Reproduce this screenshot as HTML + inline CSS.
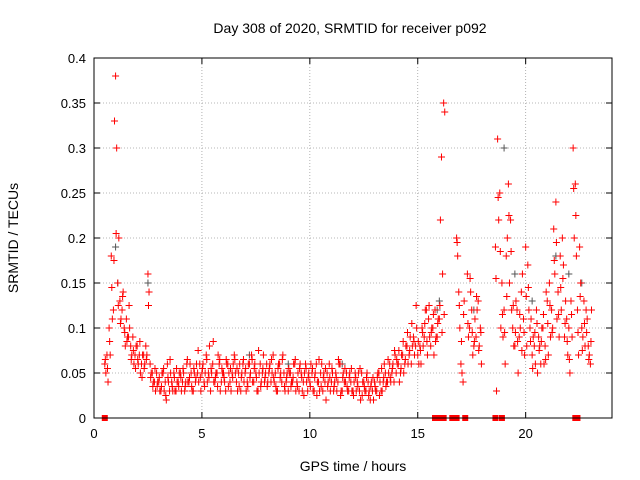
<!DOCTYPE html>
<html><head><meta charset="utf-8"><style>
body{margin:0;background:#fff;}
svg{display:block;font-family:"Liberation Sans",sans-serif;}
</style></head><body>
<svg id="chart" width="640" height="480" viewBox="0 0 640 480"></svg>
<script>
const segStarts=[0.5,3.0,15.0,16.8,17.3,18.6];
const seriesA=[
[.06,.07,.10,.18,.12,.38,.15,.13,.12,.10,.11,.09,.08,.09,.07,.08,.07,.06,.07,.08,.16,.06,.05,.04,.05],
[.04,.03,.05,.04,.06,.03,.04,.05,.03,.04,.05,.04,.03,.06,.04,.05,.03,.04,.05,.06,.05,.04,.07,.05,.03,.06,.04,.05,.06,.04,.05,.03,.06,.04,.05,.07,.04,.05,.03,.06,.05,.04,.06,.07,.04,.05,.03,.06,.05,.04,.06,.05,.04,.07,.05,.03,.06,.04,.05,.04,.03,.05,.04,.06,.04,.03,.05,.04,.06,.03,.04,.05,.03,.06,.04,.05,.03,.04,.05,.06,.04,.03,.05,.04,.06,.03,.04,.05,.03,.04,.03,.05,.04,.03,.05,.04,.03,.04,.02,.03,.04,.03,.05,.03,.04,.05,.04,.06,.05,.04,.05,.06,.05,.07,.06,.08,.07,.06,.09,.08],
[.07,.08,.10,.09,.12,.11,.08,.10,.12,.09,.11,.29,.35],
[.20,.14,.06,.04],
[.16,.10,.12,.08,.09,.13,.10],
[.19,.31,.25,.15,.12,.18,.26,.22,.10,.08,.12,.09,.14,.11,.19,.17,.10,.07,.08,.12,.09,.06,.10,.08,.13,.15,.12,.21,.24,.14,.18,.20,.09,.11,.10,.13,.30,.26,.12,.19,.10,.13,.12,.08,.06]];
const seriesB=[
[.05,.04,.07,.11,.33,.30,.20,.11,.14,.08,.09,.10,.07,.06,.08,.06,.05,.07,.06,.07,.14,.05,.04,.03,.04],
[.03,.05,.03,.02,.04,.05,.03,.03,.04,.05,.03,.05,.04,.04,.06,.03,.05,.06,.04,.03,.06,.05,.04,.08,.05,.04,.05,.07,.03,.05,.04,.06,.05,.03,.06,.05,.03,.06,.05,.04,.03,.06,.05,.04,.06,.03,.05,.04,.07,.05,.04,.06,.05,.04,.03,.06,.05,.07,.03,.05,.05,.04,.06,.03,.05,.06,.03,.05,.04,.05,.06,.03,.05,.04,.03,.06,.05,.02,.04,.03,.05,.04,.03,.06,.03,.05,.04,.03,.05,.03,.04,.03,.05,.02,.04,.03,.05,.03,.04,.02,.03,.05,.04,.03,.06,.04,.05,.04,.06,.07,.06,.04,.07,.05,.08,.06,.09,.08,.07,.10],
[.06,.06,.08,.12,.07,.09,.10,.07,.09,.11,.22,.16,.34],
[.18,.10,.05,.13],
[.09,.14,.07,.11,.12,.08,.06],
[.03,.22,.10,.09,.06,.20,.15,.12,.08,.13,.05,.10,.16,.07,.08,.12,.11,.09,.06,.05,.08,.10,.06,.14,.07,.09,.10,.16,.11,.09,.12,.17,.13,.07,.05,.09,.20,.18,.07,.15,.09,.08,.11,.07,.12]];
const seriesC=[
[.065,.055,.085,.145,.175,.205,.125,.105,.135,.095,.085,.125,.065,.075,.055,.065,.085,.045,.055,.065,.125,.045,.035,.055,.035],
[.045,.035,.055,.025,.045,.065,.035,.045,.055,.035,.045,.055,.035,.065,.045,.035,.055,.045,.075,.045,.055,.035,.065,.045,.055,.085,.045,.035,.065,.055,.045,.065,.035,.055,.045,.065,.055,.035,.045,.065,.055,.035,.045,.065,.055,.045,.075,.035,.055,.045,.035,.055,.065,.045,.035,.055,.045,.065,.035,.045,.055,.035,.045,.065,.035,.055,.045,.025,.055,.045,.035,.055,.045,.025,.065,.035,.045,.055,.035,.045,.055,.035,.045,.065,.025,.045,.055,.035,.045,.055,.025,.045,.035,.055,.025,.035,.045,.025,.035,.045,.035,.045,.025,.055,.045,.035,.065,.045,.055,.075,.065,.075,.055,.085,.065,.095,.075,.105,.085,.125],
[.085,.075,.095,.105,.085,.125,.095,.115,.085,.105,.125,.095,.115],
[.195,.125,.085,.115],
[.105,.155,.095,.085,.135,.075,.095],
[.155,.245,.185,.115,.095,.135,.225,.185,.125,.095,.085,.115,.075,.095,.135,.145,.085,.055,.095,.105,.075,.085,.115,.065,.105,.125,.095,.175,.195,.115,.145,.155,.105,.085,.065,.115,.255,.225,.095,.135,.075,.105,.095,.065,.085]];
const greyTimes=[1.0,1.1,2.5,7.2,9.0,11.5,15.9,16.0,17.6,19.0,19.5,20.3,21.4,22.0,22.6];
const greyValues=[.19,.15,.15,.07,.06,.06,.12,.13,.12,.30,.16,.13,.18,.16,.15];
const gapTimes=[0.5,15.8,16.0,16.2,16.6,16.8,17.2,18.6,18.9,22.3,22.4];
const xTicks=[0,5,10,15,20];
const yTicks=[0,0.05,0.1,0.15,0.2,0.25,0.3,0.35,0.4];
const yLabels=["0","0.05","0.1","0.15","0.2","0.25","0.3","0.35","0.4"];

const L=94,R=612,T=58,B=418;
const xs=t=>L+(t/24)*(R-L);
const ys=v=>B-(v/0.4)*(B-T);
const svg=document.getElementById('chart');
const NS='http://www.w3.org/2000/svg';
function mk(tag,a,parent){const e=document.createElementNS(NS,tag);for(const k in a)e.setAttribute(k,a[k]);(parent||svg).appendChild(e);return e;}

const grid=mk('g',{});


yTicks.forEach((v,i)=>{
  if(i>0&&i<yTicks.length-1)mk('line',{x1:L,x2:R,y1:ys(v),y2:ys(v),stroke:'#a0a0a0','stroke-width':0.8,'stroke-dasharray':'1,2'},grid);
  mk('line',{x1:L,x2:L+6,y1:ys(v),y2:ys(v),stroke:'#000'},grid);
  mk('line',{x1:R,x2:R-6,y1:ys(v),y2:ys(v),stroke:'#000'},grid);
  const t=mk('text',{x:L-8,y:ys(v)+5,'text-anchor':'end','font-size':13,fill:'#000'});
  t.textContent=yLabels[i];
  
  
});
xTicks.forEach(v=>{
  if(v>0)mk('line',{x1:xs(v),x2:xs(v),y1:T,y2:B,stroke:'#a0a0a0','stroke-width':0.8,'stroke-dasharray':'1,2'},grid);
  mk('line',{x1:xs(v),x2:xs(v),y1:B,y2:B-6,stroke:'#000'},grid);
  mk('line',{x1:xs(v),x2:xs(v),y1:T,y2:T+6,stroke:'#000'},grid);
  const t=mk('text',{x:xs(v),y:B+20,'text-anchor':'middle','font-size':13,fill:'#000'});
  t.textContent=String(v);
  
  
});

function plus(x,y,c,g){mk('path',{d:`M${x-3.5},${y}h7M${x},${y-3.5}v7`,stroke:c,'stroke-width':1,fill:'none'},g);}
const gg=mk('g',{});


greyTimes.forEach((t,i)=>plus(xs(t),ys(greyValues[i]),'#555',gg));
const rg=mk('g',{});


const offsets=[0,0.05,0.025];
[seriesA,seriesB,seriesC].forEach((ser,si)=>{
  ser.forEach((seg,k)=>{
    seg.forEach((v,i)=>{
      const t=segStarts[k]+i*0.1+offsets[si];
      plus(xs(t),ys(v),'#ff0000',rg);
    });
  });
});
const sq=mk('g',{});


gapTimes.forEach(t=>mk('rect',{x:xs(t)-3,y:B-3,width:6,height:6,fill:'#ff0000'},sq));

const frame=mk('rect',{x:L,y:T,width:R-L,height:B-T,fill:'none',stroke:'#000','stroke-width':1});



const title=mk('text',{x:350,y:33,'text-anchor':'middle','font-size':14,fill:'#000'});
title.textContent='Day 308 of 2020, SRMTID for receiver p092';


const xl=mk('text',{x:353,y:471,'text-anchor':'middle','font-size':14,fill:'#000'});
xl.textContent='GPS time / hours';


const yl=mk('text',{x:0,y:0,'text-anchor':'middle','font-size':14,fill:'#000',transform:'translate(18,238) rotate(-90)'});
yl.textContent='SRMTID / TECUs';


</script>
</body></html>
